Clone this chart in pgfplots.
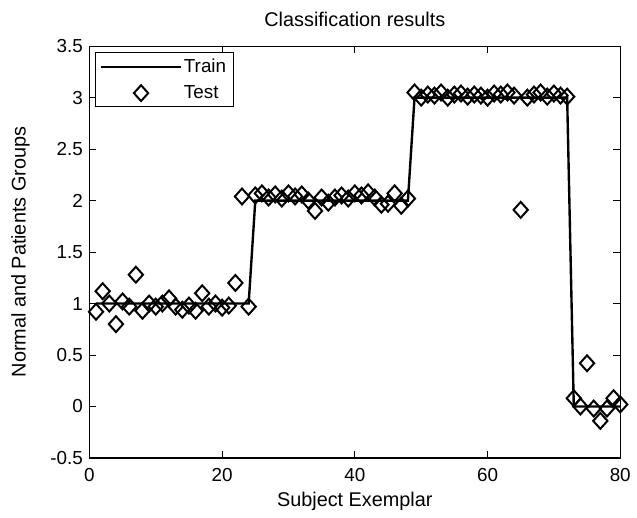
\documentclass[border={5pt 0pt 0pt 6pt}]{standalone}
\usepackage{pgfplots}
\pgfplotsset{compat=1.18}
\usepackage{fontspec}
\setmainfont{Liberation Sans}
\pgfplotsset{
  trainleg/.style={legend image code/.code={\draw[##1] (0pt,0pt) -- (80pt,0pt);}},
  testleg/.style={legend image code/.code={\draw[mark repeat=2, mark phase=2, ##1] plot coordinates {(0pt,0pt) (40pt,0pt) (80pt,0pt)};}},
}
\begin{document}
\fontsize{19}{22}\selectfont
\begin{tikzpicture}
\begin{axis}[
  scale only axis,
  width=535pt, height=415pt,
  xmin=0, xmax=80, ymin=-0.5, ymax=3.5,
  xtick={0,20,40,60,80},
  ytick={-0.5,0,0.5,1,1.5,2,2.5,3,3.5},
  yticklabels={-0.5,0,0.5,1,1.5,2,2.5,3,3.5},
  tick align=inside,
  tick pos=both,
  major tick length=7pt,
  axis line style={line width=1.2pt},
  every tick/.style={line width=1pt, black},
  /pgf/number format/assume math mode=true,
  tick label style={font=\fontsize{19}{22}\selectfont},
  xticklabel style={yshift=-4pt},
  label style={font=\fontsize{20}{23}\selectfont},
  title style={font=\fontsize{20}{23}\selectfont, yshift=7pt},
  title={Classification results},
  xlabel={Subject Exemplar},
  ylabel={Normal and Patients Groups},
  xlabel style={yshift=2pt},
  ylabel style={yshift=8pt},
  legend style={at={(0.01,0.985)}, anchor=north west, draw=black, line width=1pt,
    font=\fontsize{19}{22}\selectfont, inner xsep=5pt, inner ysep=4pt,
    row sep=6pt},
  legend cell align=left,
]
\addplot[black, line width=2.4pt, mark=none, trainleg]
  coordinates {
  (1,1)(24,1)(25,2)(48,2)(49,3)(72,3)(73,0)(80,0)
  };
\addlegendentry{Train}
\addplot[black, only marks, mark=diamond, mark size=8pt, mark options={line width=2pt, xscale=1.2}, testleg]
  coordinates {
  (1,0.92)(2,1.12)(3,1.00)(4,0.80)(5,1.02)(6,0.97)(7,1.28)(8,0.93)
  (9,1.00)(10,0.97)(11,1.00)(12,1.05)(13,0.97)(14,0.94)(15,0.98)(16,0.93)
  (17,1.10)(18,0.97)(19,1.00)(20,0.96)(21,0.98)(22,1.20)(23,2.04)(24,0.97)
  (25,2.05)(26,2.07)(27,2.03)(28,2.06)(29,2.02)(30,2.07)(31,2.04)(32,2.06)
  (33,2.00)(34,1.90)(35,2.03)(36,1.98)(37,2.03)(38,2.05)(39,2.02)(40,2.07)
  (41,2.05)(42,2.08)(43,2.03)(44,1.96)(45,1.97)(46,2.07)(47,1.95)(48,2.02)
  (49,3.05)(50,3.00)(51,3.03)(52,3.02)(53,3.05)(54,3.00)(55,3.03)(56,3.04)
  (57,3.01)(58,3.03)(59,3.02)(60,3.00)(61,3.04)(62,3.03)(63,3.05)(64,3.02)
  (65,1.91)(66,3.00)(67,3.03)(68,3.05)(69,3.01)(70,3.04)(71,3.02)(72,3.01)
  (73,0.08)(74,0.00)(75,0.42)(76,-0.02)(77,-0.14)(78,-0.02)(79,0.08)(80,0.02)
  };
\addlegendentry{Test}
\end{axis}
\end{tikzpicture}
\end{document}
